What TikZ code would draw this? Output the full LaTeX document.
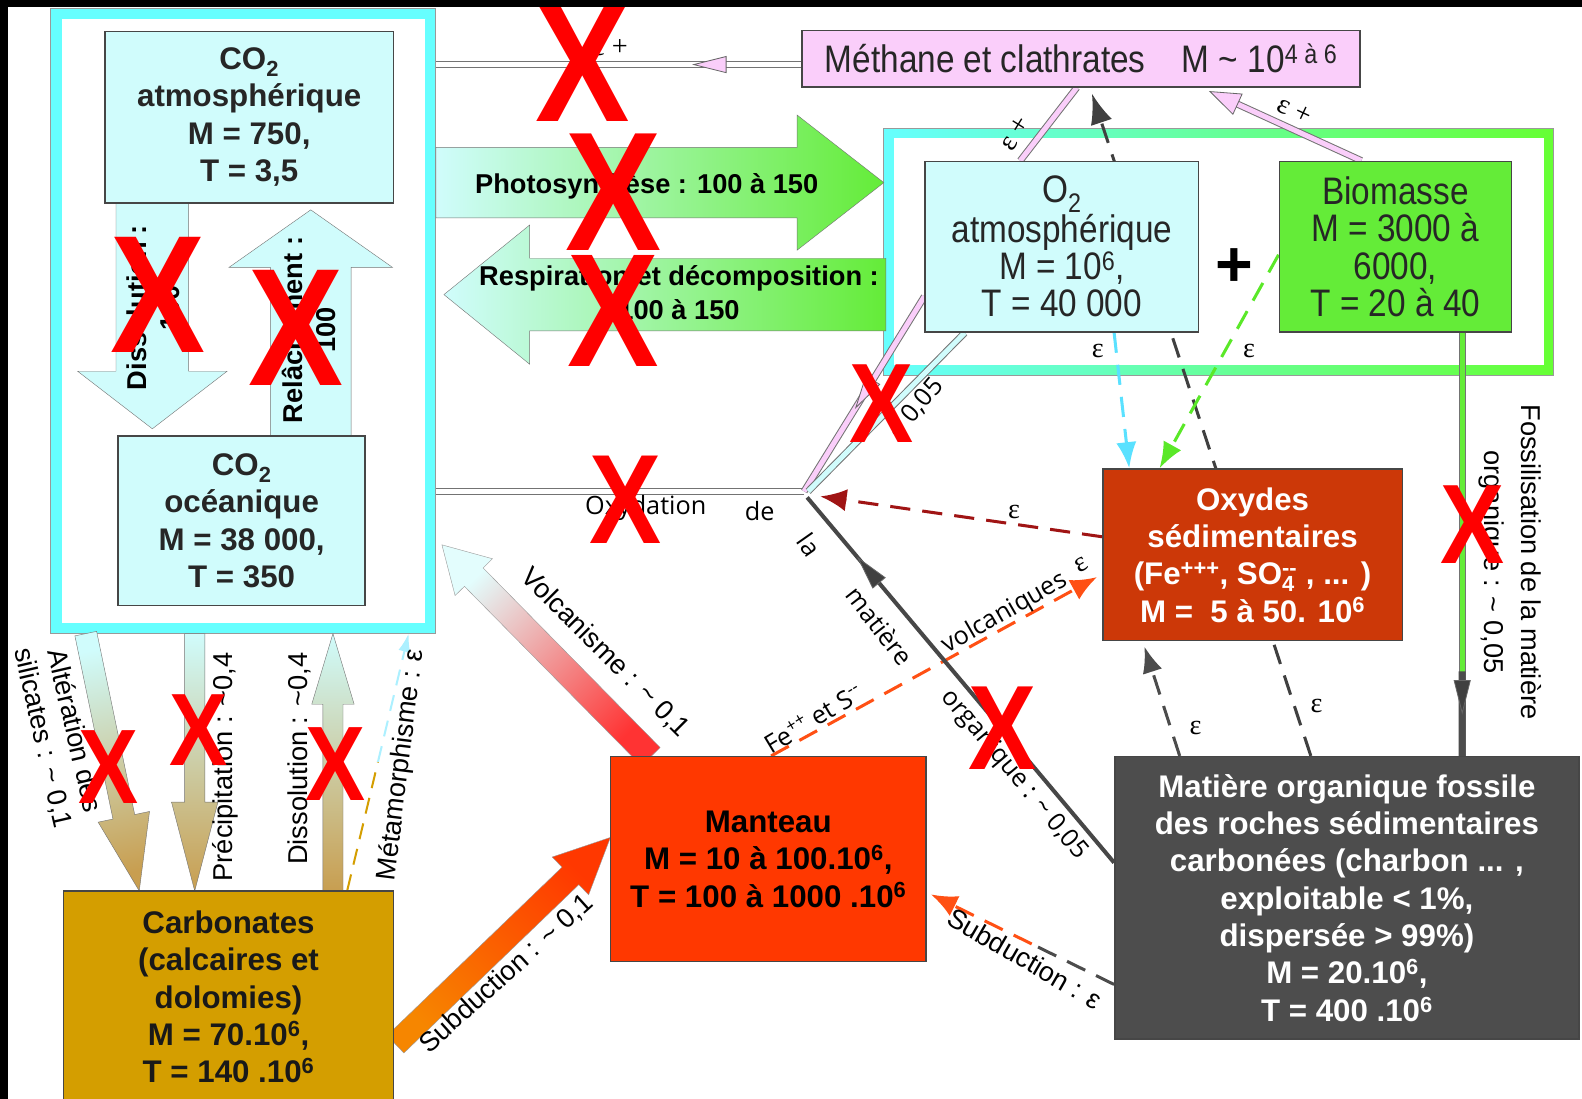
\documentclass[tikz,border=0pt]{standalone}
\usepackage{fontspec}
\setmainfont{Liberation Sans}
\newfontfamily\narrowfam{Liberation Sans}[FakeStretch=0.87]
\newfontfamily\labelfam{Open Sans}
\newfontfamily\epsfam{Liberation Serif}
\newfontfamily\xfam{Liberation Sans}[FakeStretch=0.85]
\usetikzlibrary{arrows.meta,calc,decorations.markings}

\definecolor{lightcy}{RGB}{208,252,252}
\definecolor{cyframe}{RGB}{102,255,255}
\definecolor{grframe}{RGB}{102,255,51}
\definecolor{biogreen}{RGB}{100,236,56}
\definecolor{methpink}{RGB}{250,206,250}
\definecolor{oxyred}{RGB}{204,56,8}
\definecolor{mantred}{RGB}{255,56,0}
\definecolor{fossgray}{RGB}{77,77,77}
\definecolor{carbgold}{RGB}{212,158,0}
\definecolor{boxline}{RGB}{70,70,70}
\definecolor{arrowtan}{RGB}{200,158,80}
\definecolor{xred}{RGB}{255,0,0}
\definecolor{dashcyan}{RGB}{90,225,255}
\definecolor{dashgreen}{RGB}{90,232,40}
\definecolor{dashred}{RGB}{160,20,20}
\definecolor{dashorange}{RGB}{255,80,20}

\newcommand\boxtext{\fontsize{31}{37}\selectfont\bfseries}
\newcommand\narrowtext{\narrowfam\fontsize{38}{37}\selectfont}
\newcommand\arrowtext{\fontsize{27}{33}\selectfont\bfseries}
\newcommand\sidetext{\fontsize{27}{32}\selectfont}
\newcommand\thintext{\labelfam\fontsize{25}{30}\selectfont}
\newcommand\epstext{\epsfam\fontsize{28}{30}\selectfont}

% block arrow: options, start, end, shaft half width, head half width, head length
\newcommand\blockarrow[6]{%
  \coordinate (ba-s) at #2;
  \coordinate (ba-e) at #3;
  \coordinate (ba-h) at ($(ba-e)!#6!(ba-s)$);
  \shade[#1] ($(ba-s)!#4!90:(ba-e)$) -- ($(ba-h)!#4!-90:(ba-s)$)
    -- ($(ba-h)!#5!-90:(ba-s)$) -- (ba-e) -- ($(ba-h)!#5!90:(ba-s)$)
    -- ($(ba-h)!#4!90:(ba-s)$) -- ($(ba-s)!#4!-90:(ba-e)$) -- cycle;}

\begin{document}
\begin{tikzpicture}[x=1pt,y=-1pt,
  box/.style={draw=boxline, line width=1.5pt, inner sep=0pt, align=center, font=\boxtext},
  narrowbox/.style={box, font=\narrowtext},
  hollow/.style={draw=black!55, line width=1pt, double distance=5pt},
  dashln/.style={line width=3pt, dash pattern=on 20pt off 12pt},
  eps/.style={font=\epstext, inner sep=1pt},
  side/.style={font=\sidetext, inner sep=1pt},
  thin/.style={font=\thintext, inner sep=1pt},
  xmark/.style={text=xred, font=\xfam\fontsize{#1}{#1}\selectfont\bfseries, inner sep=0pt},
  midtip/.style 2 args={postaction={decorate, decoration={markings,
    mark=at position #1 with {\filldraw[draw=black!60, line width=0.8pt, fill=#2]
      (-16,-8) -- (16,0) -- (-16,8) -- cycle;}}}},
  endtip/.style={postaction={decorate, decoration={markings,
    mark=at position 1 with {\filldraw[draw=black!60, line width=0.8pt, fill=#1]
      (-30,-11) -- (0,0) -- (-30,11) -- cycle;}}}}]

\useasboundingbox (0,0) rectangle (1568,1089);
\fill[white] (0,0) rectangle (1568,1089);

% frames
\node[draw=cyframe, line width=11pt, fill=white, minimum width=371pt,
  minimum height=609pt, inner sep=0pt] (lframe) at (241,318) {};
\draw[black!40, line width=0.8pt] (lframe.south west) rectangle (lframe.north east);
\shade[left color=cyframe, right color=grframe, draw=black!40, line width=0.8pt]
  (876,127) rectangle (1540,372);
\node[fill=white, minimum width=644pt, minimum height=225pt, inner sep=0pt] (rframe) at (1208,249.5) {};

% big arrows
\blockarrow{draw=black!55, left color=lightcy, right color=lightcy}{(151,201)}{(151,425)}{36pt}{74pt}{57pt}
\blockarrow{draw=black!55, left color=lightcy, right color=lightcy}{(308,432)}{(308,208)}{40pt}{81pt}{57pt}
\blockarrow{draw=black!55, left color=lightcy, right color=biogreen}{(432,181)}{(876,181)}{35pt}{67pt}{86pt}
\blockarrow{draw=black!55, left color=lightcy, right color=biogreen}{(878,292)}{(440,292)}{36pt}{69pt}{85pt}
\blockarrow{draw=black!55, top color=lightcy, bottom color=arrowtan, shading angle=12}{(85,628)}{(138,883)}{11pt}{26pt}{75pt}
\blockarrow{draw=black!55, top color=lightcy, bottom color=arrowtan}{(193,628)}{(193,883)}{10pt}{23pt}{88pt}
\blockarrow{draw=black!55, top color=lightcy, bottom color=arrowtan}{(330,883)}{(330,628)}{10pt}{21pt}{70pt}
\blockarrow{draw=black!40, top color=lightcy!60!white, bottom color=red!80!white, shading angle=45}{(645,750)}{(438,540)}{13pt}{26pt}{45pt}
\blockarrow{draw=black!40, top color=mantred, bottom color=orange!80!carbgold, shading angle=-45}{(392,1035)}{(605,830)}{12pt}{26pt}{55pt}

% boxes (placed now so connectors can use them, drawn again on top below)
\path node[box, minimum width=286pt, minimum height=170pt] (co2atm) at (247,116) {}
  node[box, minimum width=245pt, minimum height=168pt] (co2oce) at (239.5,516) {}
  node[box, minimum width=553pt, minimum height=56pt] (methane) at (1071.5,58) {}
  node[box, minimum width=271pt, minimum height=169pt] (o2) at (1052.5,244.5) {}
  node[box, minimum width=230pt, minimum height=169pt] (bio) at (1383,244.5) {}
  node[box, minimum width=297pt, minimum height=170pt] (oxy) at (1241.5,550) {}
  node[box, minimum width=460pt, minimum height=280pt] (matiere) at (1335,890) {}
  node[box, minimum width=313pt, minimum height=203pt] (manteau) at (761.5,851.5) {}
  node[box, minimum width=327pt, minimum height=210pt] (carbo) at (226.5,988) {};

% connection points
\coordinate (oxpt) at (797,487);
\coordinate (methin) at ($(methane.west)+(0,6)$);
\coordinate (o2top) at ($(o2.north west)+(95,0)$);
\coordinate (methbot1) at ($(methane.south west)+(273,0)$);
\coordinate (biotop) at ($(bio.north west)+(82,0)$);
\coordinate (methbot2) at ($(methane.south west)+(405,4)$);
\coordinate (fossA) at ($(matiere.north west)+(195,0)$);
\coordinate (methbot3) at ($(methane.south west)+(288,6)$);
\coordinate (o2bot) at ($(o2.south west)+(188,0)$);
\coordinate (oxytop1) at ($(oxy.north west)+(27,0)$);
\coordinate (bioleft) at ($(bio.west)+(0,8)$);
\coordinate (oxytop2) at ($(oxy.north west)+(57,0)$);
\coordinate (oxyw1) at ($(oxy.west)+(0,-18)$);
\coordinate (oxyw2) at ($(oxy.west)+(-5,22)$);
\coordinate (manttop) at ($(manteau.north west)+(160,0)$);
\coordinate (fossB) at ($(matiere.north west)+(65,0)$);
\coordinate (oxybot) at ($(oxy.south west)+(42,5)$);
\coordinate (fossW) at ($(matiere.west)+(0,-35)$);
\coordinate (o2w) at ($(o2.south west)+(0,-36)$);
\coordinate (o2b2) at ($(o2.south west)+(40,0)$);
\coordinate (biobot) at ($(bio.south west)+(182,0)$);
\coordinate (mattop) at (biobot |- matiere.north);
\coordinate (fossS) at ($(matiere.south west)+(0,-55)$);
\coordinate (mantE) at ($(manteau.east)+(4,35)$);
\coordinate (carbT) at ($(carbo.north west)+(282,0)$);
\coordinate (lfB) at ($(lframe.south west)+(355,0)$);

% thin connectors
\draw[hollow, double=white] (methin) -- (methin -| lframe.east);
\path[midtip={0.25}{methpink}] (methin) -- (methin -| lframe.east);
\draw[hollow, double=methpink] (o2top) -- (methbot1);
\draw[hollow, double=methpink, shorten >=26pt] (biotop) -- (methbot2);
\path[endtip=methpink] (biotop) -- (methbot2);
\draw[dashln, draw=black!75, -{Latex[length=30pt,width=22pt]}] (fossA) -- (methbot3);
\draw[dashln, draw=dashcyan, -{Latex[length=26pt,width=20pt]}] (o2bot) -- (oxytop1);
\draw[dashln, draw=dashgreen, -{Latex[length=26pt,width=20pt]}] (bioleft) -- (oxytop2);
\draw[dashln, draw=dashred, -{Latex[length=26pt,width=22pt]}] (oxyw1) -- ($(oxpt)+(16,5)$);
\draw[dashln, draw=dashorange, -{Latex[length=26pt,width=22pt]}] (manttop) -- (oxyw2);
\draw[dashln, draw=black!70, -{Latex[length=26pt,width=20pt]}] (fossB) -- (oxybot);
\draw[line width=4pt, draw=black!72] (fossW) -- ($(oxpt)+(3,6)$);
\path[midtip={0.8}{black!75}] (fossW) -- ($(oxpt)+(3,6)$);
\draw[hollow, double=white] (oxpt) -- (oxpt -| lframe.east);
\draw[hollow, double=methpink] (o2w) -- (oxpt);
\path[midtip={0.5}{methpink}] (o2w) -- (oxpt);
\draw[hollow, double=lightcy] (o2b2) -- ($(oxpt)+(4,0)$);
\draw[hollow, double=biogreen] (biobot) -- (mattop);
\draw[line width=7pt, draw=black!70] ($(biobot)!0.8!(mattop)$) -- (mattop);
\path[midtip={0.86}{black!75}] (biobot) -- (mattop);
\coordinate (subm) at ($(fossS)!0.45!(mantE)$);
\draw[dashln, draw=black!70] (fossS) -- (subm);
\draw[dashln, draw=dashorange, -{Latex[length=26pt,width=22pt]}] (subm) -- (mantE);
\coordinate (metm) at ($(carbT)!0.5!(lfB)$);
\draw[line width=2pt, dash pattern=on 16pt off 10pt, draw=carbgold] (carbT) -- (metm);
\draw[line width=2pt, dash pattern=on 16pt off 10pt, draw=dashcyan!50!white,
  -{Latex[length=18pt,width=12pt]}] (metm) -- (lfB);

% boxes
\node[box, fill=lightcy, text=black!85, minimum width=286pt, minimum height=170pt] at (co2atm)
  {CO\textsubscript{2}\\atmosphérique\\M = 750,\\T = 3,5};
\node[box, fill=lightcy, text=black!85, minimum width=245pt, minimum height=168pt] at (co2oce)
  {CO\textsubscript{2}\\océanique\\M = 38 000,\\T = 350};
\node[narrowbox, fill=methpink, text=black!85, minimum width=553pt, minimum height=56pt] at (methane)
  {Méthane et clathrates\hspace{36pt}M \textasciitilde{} 10\textsuperscript{4 à 6}};
\node[narrowbox, fill=lightcy, text=black!85, minimum width=271pt, minimum height=169pt] at (o2)
  {O\textsubscript{2}\\atmosphérique\\M = 10\textsuperscript{6},\\T = 40 000};
\node[narrowbox, fill=biogreen, text=black!85, minimum width=230pt, minimum height=169pt] at (bio)
  {Biomasse\\M = 3000 à\\6000,\\T = 20 à 40};
\node[box, fill=oxyred, text=white, minimum width=297pt, minimum height=170pt] at (oxy)
  {Oxydes\\sédimentaires\\(Fe\textsuperscript{+++}, SO\rlap{\textsubscript{4}}\textsuperscript{-{}-} , ... )\\M =\ \ 5 à 50. 10\textsuperscript{6}};
\node[box, fill=fossgray, text=white, minimum width=460pt, minimum height=280pt] at (matiere)
  {Matière organique fossile\\des roches sédimentaires\\carbonées (charbon ... ,\\exploitable < 1\%,\\dispersée > 99\%)\\M = 20.10\textsuperscript{6},\\T = 400 .10\textsuperscript{6}};
\node[box, fill=mantred, text=black, minimum width=313pt, minimum height=203pt] at (manteau)
  {Manteau\\M = 10 à 100.10\textsuperscript{6},\\T = 100 à 1000 .10\textsuperscript{6}};
\node[box, fill=carbgold, text=black!90, minimum width=327pt, minimum height=210pt] at (carbo)
  {Carbonates\\(calcaires et\\dolomies)\\M = 70.10\textsuperscript{6},\\T = 140 .10\textsuperscript{6}};
\node[font=\fontsize{64}{64}\selectfont\bfseries] (plus) at (1223,265) {+};

% arrow labels
\node[font=\arrowtext] (photolbl) at (641,185) {Photosynthèse : 100 à 150};
\node[font=\arrowtext, align=center] (resplbl) at (673,290) {Respiration et décomposition :\\100 à 150};
\node[font=\arrowtext, align=center, rotate=90] (dissatm) at (152,305) {Dissolution :\\100};
\node[font=\arrowtext, align=center, rotate=90] (relatm) at (306,327) {Relâchement :\\100};
\node[side, align=center, rotate=-77] (altlbl) at (58,728) {Altération des\\silicates : \textasciitilde{} 0,1};
\node[side, rotate=90] (preclbl) at (223,760) {Précipitation : \textasciitilde0,4};
\node[side, rotate=90] (disslbl) at (297,752) {Dissolution : \textasciitilde0,4};
\node[side, rotate=83] (metalbl) at (398,758) {Métamorphisme : ε};
\node[side, rotate=-45] (volclbl) at (600,647) {Volcanisme : \textasciitilde{} 0,1};
\node[side, rotate=42] (subdlbl) at (502,965) {Subduction : \textasciitilde{} 0,1};
\node[side, rotate=-30] (subdlbl2) at (1016,950) {Subduction : ε};
\node[side, align=center, rotate=-90, font=\fontsize{27}{37}\selectfont] (fosslbl) at (1497,557)
  {Fossilisation de la matière\\organique : \textasciitilde{} 0,05};
\node[thin] (oxlbl1) at (640,503) {Oxydation};
\node[thin] (oxlbl2) at (753,507) {de};
\node[thin, rotate=-55] (oxlbl3) at (802,540) {la};
\node[thin, rotate=-52] (oxlbl4) at (872,620) {matière};
\node[thin, rotate=-50] (oxlbl5) at (1005,768) {organique : \textasciitilde{} 0,05};
\node[thin, rotate=50] (o2lbl) at (908,405) {\textasciitilde{} 0,05};
\node[thin, rotate=31] (felbl) at (806,712) {Fe\textsuperscript{++} et S\textsuperscript{-{}-}};
\node[thin, rotate=30] (volclbl2) at (996,608) {volcaniques};
\node[eps] (e1) at (605,47) {ε +};
\node[eps, rotate=58] (e2) at (1006,132) {ε +};
\node[eps, rotate=-25] (e3) at (1283,110) {ε +};
\node[eps] (e4) at (1088,348) {ε};
\node[eps] (e5) at (1238,348) {ε};
\node[eps] (e6) at (1005,507) {ε};
\node[eps, rotate=30] (e7) at (1072,560) {ε};
\node[eps] (e8) at (1185,722) {ε};
\node[eps] (e9) at (1305,700) {ε};

% red crosses
\node[xmark=165] at (578,64) {X};
\node[xmark=168] at (608,190) {X};
\node[xmark=160] at (608,308) {X};
\node[xmark=166] at (157,292) {X};
\node[xmark=166] at (293,325) {X};
\node[xmark=126] at (620,495) {X};
\node[xmark=112] at (874,400) {X};
\node[xmark=112] at (1459,520) {X};
\node[xmark=119] at (994,722) {X};
\node[xmark=105] at (108,760) {X};
\node[xmark=102] at (197,724) {X};
\node[xmark=105] at (333,757) {X};

% black edges
\fill[black] (0,0) rectangle (1568,7);
\fill[black] (0,0) rectangle (8,1089);
\end{tikzpicture}
\end{document}
